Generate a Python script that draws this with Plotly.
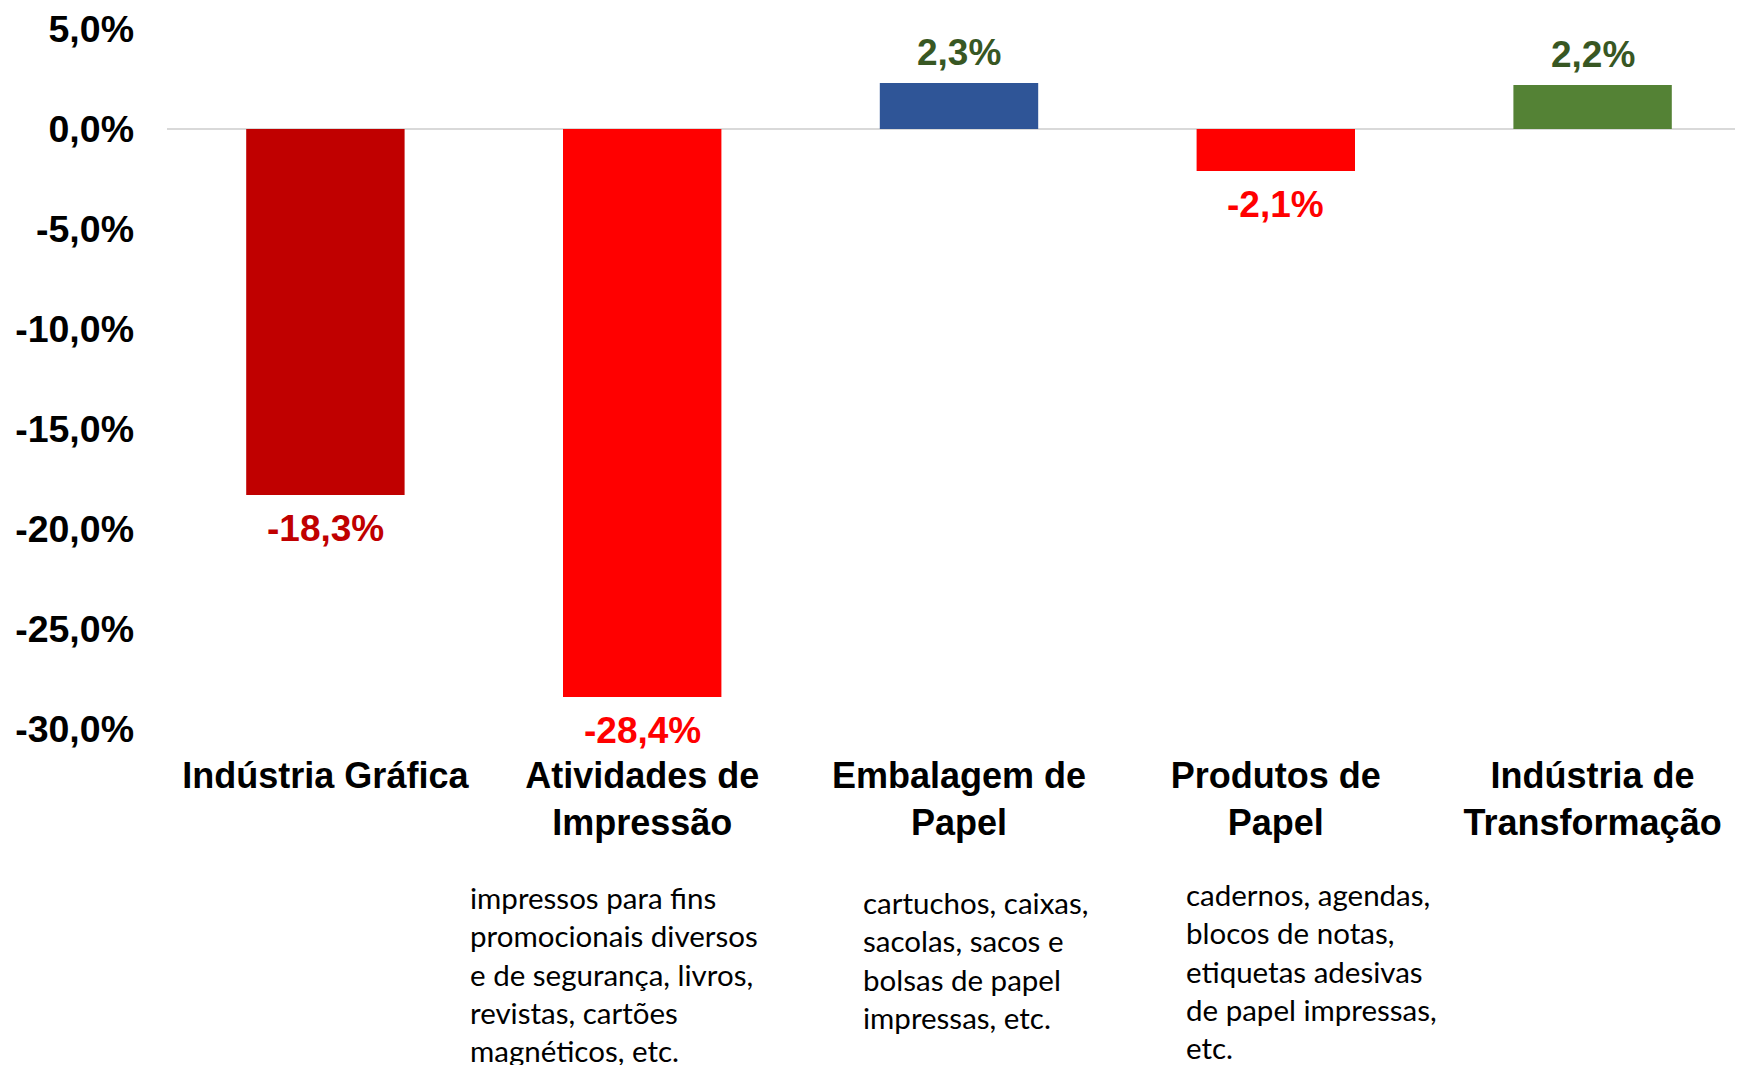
import plotly.graph_objects as go

# dados
categorias = ["Indústria Gráfica", "Atividades de<br>Impressão", "Embalagem de<br>Papel",
              "Produtos de<br>Papel", "Indústria de<br>Transformação"]
variacao = [-18.3, -28.4, 2.3, -2.1, 2.2]
cores_barras = ["#C00000", "#FF0000", "#2F5597", "#FF0000", "#548235"]
cores_rotulos = ["#C00000", "#FF0000", "#385723", "#FF0000", "#385723"]

y_ticks = [5, 0, -5, -10, -15, -20, -25, -30]
y_ticktext = ["5,0%", "0,0%", "-5,0%", "-10,0%", "-15,0%", "-20,0%", "-25,0%", "-30,0%"]

descricoes = [
    (1, "impressos para fins<br>promocionais diversos<br>e de segurança, livros,<br>revistas, cartões<br>magnéticos, etc.", -174, -149),
    (2, "cartuchos, caixas,<br>sacolas, sacos e<br>bolsas de papel<br>impressas, etc.", -98, -154),
    (3, "cadernos, agendas,<br>blocos de notas,<br>etiquetas adesivas<br>de papel impressas,<br>etc.", -92, -146),
]

FONTE = "Arial, Liberation Sans, sans-serif"

fig = go.Figure()

fig.add_trace(go.Bar(
    x=list(range(len(categorias))),
    y=variacao,
    marker=dict(color=cores_barras, line=dict(width=0)),
    hoverinfo="skip",
))

# rótulos de valor
for i, v in enumerate(variacao):
    txt = f"{v:.1f}".replace(".", ",") + "%"
    fig.add_annotation(
        x=i, y=v, text=txt, showarrow=False,
        yanchor="bottom" if v >= 0 else "top",
        yshift=8 if v >= 0 else -11,
        font=dict(family=FONTE, size=37, color=cores_rotulos[i], weight="bold"),
    )

# descrições abaixo das categorias
for idx, txt, dx, dy in descricoes:
    fig.add_annotation(
        x=idx, xref="x", y=0, yref="paper", text=txt, showarrow=False,
        xanchor="left", yanchor="top", align="left",
        xshift=dx, yshift=dy,
        font=dict(family="Lato, sans-serif", size=29.5, color="#000000"),
    )

fig.update_layout(
    width=1743, height=1065,
    margin=dict(l=159, r=0, t=21, b=344),
    paper_bgcolor="white", plot_bgcolor="white",
    bargap=0.5, showlegend=False,
    xaxis=dict(
        tickmode="array", tickvals=list(range(len(categorias))), ticktext=categorias,
        range=[-0.5, len(categorias) - 0.5],
        showgrid=False, showline=False, zeroline=False, ticks="",
        tickfont=dict(family=FONTE, size=36, color="#000000", weight="bold"),
        ticklabelstandoff=22,
    ),
    yaxis=dict(
        range=[-30, 5], tickmode="array", tickvals=y_ticks, ticktext=y_ticktext,
        showgrid=False, showline=False, ticks="",
        zeroline=True, zerolinecolor="#D9D9D9", zerolinewidth=2,
        tickfont=dict(family=FONTE, size=37.5, color="#000000", weight="bold"),
        ticklabelstandoff=32,
    ),
)

fig.write_html("out.html")
